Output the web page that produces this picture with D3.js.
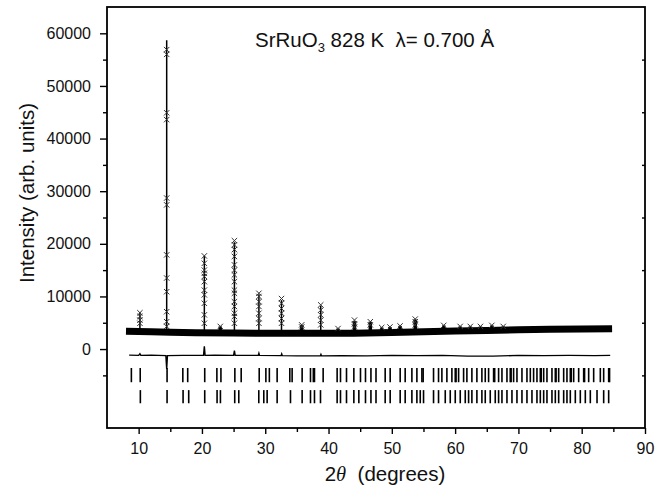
<!DOCTYPE html>
<html>
<head>
<meta charset="utf-8">
<script src="https://cdn.jsdelivr.net/npm/d3@7"></script>
<style>
body { margin: 0; background: #fff; }
svg { font-family: "Liberation Sans", Arial, sans-serif; }
</style>
</head>
<body>
<div id="chart"></div>
<script>
// background under the pattern (2theta, counts)
var bgTheta = [8, 10, 12, 15, 19, 25, 30, 35, 40, 44, 50, 55, 60, 65, 70, 75, 80, 84.8];
var bgCounts = [3400, 3350, 3300, 3200, 3100, 3050, 3000, 3000, 3000, 3000, 3150, 3300, 3420, 3550, 3650, 3750, 3800, 3850];

// Bragg peaks: position, calculated top, observed points (x marks)
var peakTheta = [10.2, 14.43, 22.9, 20.38, 25.13, 29.0, 32.57, 35.76, 38.77, 41.5, 44.1, 46.6, 48.4, 49.7, 51.3, 53.7, 58.2, 60.8, 62.4, 64.0, 65.8, 67.6];
var peakCalc = [7000, 58700, 4300, 17700, 20300, 10400, 9300, 4600, 8200, 3900, 5300, 5200, 4100, 4200, 4400, 5600, 4500, 4300, 4300, 4300, 4500, 4300];
var peakObs = [
  [6900, 6200, 5500, 4900],
  [56900, 56000, 44900, 43600, 28700, 27400, 17900, 13500, 10900, 7100, 5200, 4300],
  [4300],
  [17700, 16300, 15000, 14400, 13800, 12800, 11200, 10300, 8700, 6500, 4900],
  [20600, 19800, 18900, 17600, 16000, 15000, 14100, 12800, 11200, 10600, 9000, 8100, 6800, 6200, 4900],
  [10600, 10000, 9000, 8100, 6800, 5800, 4900],
  [9600, 8700, 7700, 6800, 5800, 4900],
  [4600, 4200],
  [8400, 7400, 6500, 5500, 4600],
  [3900],
  [5500, 4800, 4200],
  [5200, 4600],
  [4100], [4200], [4400],
  [5700, 5200, 4600],
  [4500], [4300], [4300], [4300], [4500], [4300]
];

// difference curve
var diffTheta = [8.5, 10, 10.2, 10.35, 12, 14.3, 14.43, 14.55, 17, 20.25, 20.38, 20.5, 22, 25.0, 25.13, 25.25, 28.9, 29.0, 29.1, 32.5, 32.6, 32.7, 35, 38.7, 38.8, 38.9, 42, 46, 50, 54, 58, 62, 66, 70, 74, 78, 82, 84.5];
var diffCounts = [-1150, -1200, -900, -1200, -1150, -1250, -3800, -1250, -1200, -1200, 500, -1200, -1150, -1200, -300, -1200, -1200, -800, -1200, -1250, -900, -1250, -1300, -1300, -1000, -1300, -1250, -1300, -1200, -1250, -1200, -1350, -1350, -1200, -1250, -1200, -1250, -1200];

// reflection markers, two rows
var reflRow1 = [8.85, 10.25, 14.49, 16.98, 17.75, 20.44, 22.36, 23.0, 25.2, 26.2, 29.05, 30.1, 30.65, 31.88, 33.88, 34.25, 35.83, 37.15, 37.6, 37.78, 39.15,
  41.36, 41.89, 42.84, 44.0, 45.05, 45.84, 46.7, 47.5, 48.95, 49.74, 51.32, 52.11, 53.17, 53.96, 54.75, 54.95,
  56.59, 57.38, 57.91, 58.70, 59.49, 60.02, 60.15, 60.55, 61.34, 61.86, 62.65, 63.44, 64.23, 64.76, 65.29, 66.08, 66.25, 66.87,
  67.40, 68.19, 68.71, 68.85, 69.24, 69.77, 70.56, 71.35, 71.88, 72.40, 72.93, 73.46, 73.6, 73.99, 74.51, 75.30, 75.83, 75.95,
  76.36, 77.15, 77.67, 78.20, 78.35, 78.73, 79.52, 80.31, 80.45, 81.10, 81.89, 82.94, 83.47, 84.26, 84.4];
var reflRow2 = [10.27, 14.49, 17.02, 17.91, 20.44, 22.39, 22.92, 25.18, 25.82, 28.98, 29.77, 30.3, 31.88, 33.99, 35.83, 37.15, 37.78, 38.73,
  41.36, 41.89, 42.84, 44.0, 44.79, 45.84, 46.7, 47.5, 48.95, 49.74, 51.32, 52.11, 53.17, 53.96, 54.49, 55.01,
  56.59, 57.38, 58.44, 59.23, 60.02, 60.81, 61.60, 62.13, 62.65, 63.44, 64.23, 64.76, 65.55, 66.34, 66.87, 67.40, 68.19, 68.98,
  69.77, 70.56, 71.35, 72.14, 72.93, 73.46, 73.99, 74.51, 75.30, 75.83, 76.36, 77.15, 77.67, 78.20, 78.99, 79.78, 80.57,
  81.36, 82.42, 83.47, 84.26];
var row1Span = [-3600, -6300];
var row2Span = [-7800, -10300];

var xTicks = [10, 20, 30, 40, 50, 60, 70, 80, 90];
var xMinor = [15, 25, 35, 45, 55, 65, 75, 85];
var yTicks = [0, 10000, 20000, 30000, 40000, 50000, 60000];
var yMinor = [-5000, 5000, 15000, 25000, 35000, 45000, 55000];

var w = 665, h = 495;

var svg = d3.select("#chart")
  .append("svg")
  .attr("width", w)
  .attr("height", h);

var x = d3.scaleLinear().domain([5, 90]).range([107, 645]);
var y = d3.scaleLinear().domain([-15000, 65000]).range([428, 7]);
var bg = d3.scaleLinear().domain(bgTheta).range(bgCounts);

// axes
svg.append("g")
  .attr("transform", "translate(0,428)")
  .call(d3.axisBottom(x).tickValues(xTicks).tickSize(6).tickPadding(9).tickFormat(d3.format("d")))
  .call(g => g.select(".domain").remove());
svg.append("g")
  .attr("transform", "translate(0,428)")
  .call(d3.axisBottom(x).tickValues(xMinor).tickSize(4).tickFormat(""))
  .call(g => g.select(".domain").remove());
svg.append("g")
  .attr("transform", "translate(107,0)")
  .call(d3.axisLeft(y).tickValues(yTicks).tickSize(7).tickPadding(9).tickFormat(d3.format("d")))
  .call(g => g.select(".domain").remove());
svg.append("g")
  .attr("transform", "translate(107,0)")
  .call(d3.axisLeft(y).tickValues(yMinor).tickSize(4).tickFormat(""))
  .call(g => g.select(".domain").remove());
svg.append("g")
  .attr("transform", "translate(645,0)")
  .call(d3.axisLeft(y).tickValues(yMinor).tickSize(3).tickFormat(""))
  .call(g => g.select(".domain").remove());

svg.selectAll(".tick text")
  .style("font-size", "16px")
  .style("fill", "#111");
svg.selectAll(".tick line")
  .style("stroke", "#000")
  .style("stroke-width", 1.4);

// frame
svg.append("rect")
  .attr("x", 107).attr("y", 7)
  .attr("width", 538).attr("height", 421)
  .style("fill", "none")
  .style("stroke", "#000")
  .style("stroke-width", 1.8);

// background band (dense observed points)
var line = d3.line().x(d => x(d[0])).y(d => y(d[1]));
svg.append("path")
  .attr("d", line(bgTheta.map((t, i) => [t, bgCounts[i]])))
  .style("fill", "none")
  .style("stroke", "#000")
  .style("stroke-width", 7);

// calculated peaks
peakTheta.forEach(function(t, i) {
  var small = peakCalc[i] < 6000;
  svg.append("line")
    .attr("x1", x(t)).attr("x2", x(t))
    .attr("y1", y(bg(t))).attr("y2", y(peakCalc[i]))
    .style("stroke", "#000")
    .style("stroke-width", small ? 3.5 : 1.5);
});

// observed points
var cross = 2.7;
peakTheta.forEach(function(t, i) {
  peakObs[i].forEach(function(v) {
    var cx = x(t), cy = y(v);
    svg.append("path")
      .attr("d", "M" + (cx - cross) + "," + (cy - cross) + "L" + (cx + cross) + "," + (cy + cross) +
                 "M" + (cx - cross) + "," + (cy + cross) + "L" + (cx + cross) + "," + (cy - cross))
      .style("fill", "none")
      .style("stroke", "#333")
      .style("stroke-width", 1);
  });
});

// difference curve
svg.append("path")
  .attr("d", line(diffTheta.map((t, i) => [t, diffCounts[i]])))
  .style("fill", "none")
  .style("stroke", "#000")
  .style("stroke-width", 1.4);

// reflection markers
function drawRow(list, span) {
  svg.append("g").selectAll("line")
    .data(list)
    .enter().append("line")
    .attr("x1", d => x(d)).attr("x2", d => x(d))
    .attr("y1", y(span[0])).attr("y2", y(span[1]))
    .style("stroke", "#000")
    .style("stroke-width", 1.6);
}
drawRow(reflRow1, row1Span);
drawRow(reflRow2, row2Span);

// labels
var title = svg.append("text")
  .attr("x", 255).attr("y", 47)
  .style("font-size", "20.5px")
  .style("fill", "#111");
title.append("tspan").text("SrRuO");
title.append("tspan").attr("dy", 5).style("font-size", "13px").text("3");
title.append("tspan").attr("dy", -5).text("\u00a0828 K\u00a0\u00a0\u03bb= 0.700 \u00c5");

svg.append("text")
  .attr("transform", "translate(34,193) rotate(-90)")
  .attr("text-anchor", "middle")
  .style("font-size", "20.5px")
  .style("fill", "#111")
  .text("Intensity (arb. units)");

var xt = svg.append("text")
  .attr("x", 385).attr("y", 481)
  .attr("text-anchor", "middle")
  .style("font-size", "20.5px")
  .style("fill", "#111");
xt.append("tspan").text("2");
xt.append("tspan").style("font-family", "Liberation Serif, serif").style("font-style", "italic").text("\u03b8");
xt.append("tspan").text("\u00a0\u00a0(degrees)");
</script>
</body>
</html>
